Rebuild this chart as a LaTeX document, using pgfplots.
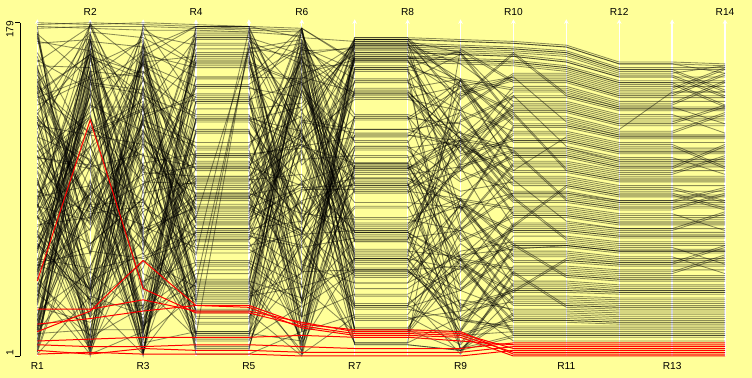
\documentclass[border=0pt]{standalone}
\usepackage{fontspec}
\setmainfont{Liberation Sans}
\usepackage{pgfplots}
\usepackage{pgfplotstable}
\pgfplotsset{compat=1.18}
\usetikzlibrary{arrows.meta}
\definecolor{bgyellow}{HTML}{FFFF99}

\pgfplotstableread{
R1 R2 R3 R4 R5 R6 R7 R8 R9 R10 R11 R12 R13 R14
16 94 26 47 47 148 62 62 29 9 9 9 9 9
25 46 21 68 68 122 7 7 4 11 11 11 11 11
36 2 14 95 95 98 67 67 52 12 12 12 12 12
49 141 5 128 128 76 28 28 12 14 14 14 14 14
64 105 173 167 167 56 26 26 20 15 15 15 15 15
81 73 160 33 33 38 47 47 20 17 17 17 17 17
100 45 145 84 84 22 34 34 48 19 19 18 18 18
121 21 128 141 141 8 53 53 12 20 20 19 19 19
144 1 109 25 25 175 43 43 70 22 22 21 21 21
169 164 88 94 94 165 7 7 4 23 23 22 22 22
17 152 65 12 169 157 55 55 36 25 25 24 24 24
46 144 40 71 71 151 33 33 2 45 27 26 26 26
77 140 13 158 158 147 62 62 52 28 28 27 27 27
110 131 163 72 72 145 21 21 25 30 30 29 29 29
145 120 132 171 171 140 102 102 66 31 31 30 30 30
3 160 99 97 97 133 15 15 4 33 33 32 32 32
42 170 64 29 29 161 29 29 49 35 35 34 34 34
83 11 27 146 146 166 53 53 20 36 36 35 35 35
126 30 167 90 90 170 72 72 81 38 38 36 36 36
171 55 126 40 40 2 22 22 7 39 39 37 37 37
39 82 83 55 175 14 23 23 61 41 41 39 39 39
88 113 38 137 137 30 53 53 47 60 43 41 41 41
139 150 170 105 105 46 111 111 84 44 44 42 42 42
13 15 121 79 79 65 8 8 22 46 46 44 44 44
68 36 70 59 59 84 93 93 52 47 47 45 45 54
125 101 17 45 45 110 15 15 14 49 49 47 47 47
5 146 141 37 37 118 83 83 80 51 51 49 49 49
66 23 84 35 35 155 46 46 27 35 52 50 50 59
129 83 25 39 39 176 69 69 102 54 54 51 51 51
15 147 143 49 49 27 46 46 36 55 55 52 52 52
82 36 80 65 65 59 64 64 68 57 57 54 54 45
151 108 15 87 87 93 50 50 14 59 59 56 56 56
43 5 127 115 115 129 67 67 84 60 60 57 57 57
116 85 58 149 149 167 37 37 57 62 62 59 59 50
12 169 166 10 10 28 153 153 120 85 63 60 60 60
89 78 93 56 56 70 27 27 36 65 65 62 62 62
168 170 18 108 108 114 96 96 81 67 67 64 64 64
70 87 120 30 166 160 14 14 52 68 68 65 65 65
153 8 41 51 51 29 119 119 113 70 70 67 67 67
59 112 139 121 121 79 66 66 39 71 71 68 68 77
146 41 56 18 18 131 101 101 115 95 73 69 69 69
56 153 150 100 100 6 103 103 62 75 75 71 71 71
147 90 63 9 9 62 89 89 116 76 76 72 72 72
61 31 153 103 103 120 57 57 54 78 78 74 74 74
156 155 62 24 24 1 103 103 84 79 79 75 75 75
74 104 148 130 130 63 13 13 46 81 81 77 77 68
173 57 53 63 63 127 122 122 112 83 83 79 79 87
95 14 135 2 2 14 98 98 102 110 84 80 80 80
19 154 36 126 126 82 170 170 134 86 86 82 82 82
124 119 114 77 77 152 51 51 68 87 87 83 83 90
52 88 11 34 34 45 80 80 100 89 89 84 84 84
161 61 85 176 176 119 58 58 25 70 91 86 86 86
93 38 157 145 145 16 107 107 116 92 92 87 87 79
27 19 48 120 120 94 104 104 89 94 94 89 89 89
142 4 116 101 101 174 92 92 130 95 95 90 90 83
80 172 3 88 88 77 74 74 68 97 97 92 92 92
20 165 67 81 81 161 140 140 113 99 99 94 94 94
141 162 129 80 80 68 100 100 114 130 100 95 95 95
85 163 10 85 85 156 156 156 145 102 102 97 97 97
31 168 68 96 96 67 44 44 71 103 103 98 98 107
158 177 124 113 113 159 128 128 125 105 105 100 100 100
108 11 178 136 136 74 113 113 94 107 107 101 101 113
60 28 51 75 165 170 115 115 148 108 108 102 102 102
14 49 101 21 21 89 96 96 86 110 110 104 104 104
149 74 149 62 62 10 112 112 116 111 111 105 105 105
107 103 16 109 109 112 141 141 105 140 113 107 107 98
67 136 60 162 162 37 127 127 144 115 115 109 109 109
29 173 102 42 42 143 88 88 108 116 116 110 110 110
172 35 142 107 107 72 161 161 148 100 118 112 112 112
138 80 1 177 177 3 91 91 100 119 119 113 113 101
106 129 37 76 76 115 147 147 132 121 121 115 115 115
76 3 71 159 159 50 40 40 78 123 123 117 117 117
48 60 103 69 69 166 154 154 148 124 124 118 118 118
22 121 133 40 164 105 170 170 145 150 126 119 119 119
177 7 161 86 86 46 148 148 162 127 127 120 120 130
155 76 8 14 14 168 141 141 100 129 129 122 142 142
135 149 32 127 127 113 118 118 145 131 131 124 124 124
117 47 54 67 67 60 119 119 116 132 132 125 125 134
101 128 74 13 13 9 160 160 163 134 134 127 127 127
87 34 92 144 144 139 70 70 103 135 135 128 128 128
75 123 108 102 102 92 167 167 157 137 137 130 130 120
65 37 122 66 66 47 122 122 126 139 139 132 132 132
57 134 134 36 36 4 168 168 138 162 140 133 133 133
51 56 144 12 12 142 101 101 118 142 142 134 134 125
47 161 152 173 173 103 128 128 148 143 143 135 135 147
45 91 158 161 161 66 143 143 110 145 145 137 137 137
174 25 162 155 155 31 155 155 164 147 147 139 139 139
9 142 164 150 150 176 158 158 140 148 148 140 140 151
131 84 176 157 157 146 104 104 142 150 150 142 142 142
99 30 2 170 170 117 138 138 132 151 151 143 143 154
33 159 97 6 6 90 158 158 157 156 153 145 145 145
163 113 45 31 31 65 160 160 159 158 155 147 147 135
113 71 113 58 58 42 161 161 160 159 156 148 148 148
2 33 23 111 111 21 163 163 162 161 158 150 150 150
92 178 156 139 139 2 164 164 163 162 159 151 151 140
6 148 77 19 19 164 165 165 164 163 161 152 152 156
58 122 137 74 74 149 167 167 166 165 163 154 154 143
128 100 2 133 133 136 168 168 167 166 164 155 155 155
35 82 118 4 4 125 170 170 169 168 166 157 157 152
104 68 168 92 92 116 171 171 170 169 167 158 158 157
179 178 179 178 177 176 40 40 55 58 60 57 57 57
178 179 178 177 176 175 20 20 31 26 26 25 25 25
176 177 177 176 175 174 95 95 80 88 88 83 83 83
177 176 175 175 174 172 130 130 120 112 112 105 105 105
44 169 133 14 14 64 94 94 5 12 12 12 12 12
117 178 100 145 145 128 16 16 53 13 13 13 13 13
90 29 28 67 67 83 47 47 21 16 16 16 16 16
71 75 127 13 13 46 47 47 49 20 20 19 19 19
154 104 84 174 174 120 65 65 13 21 21 20 20 20
147 174 171 156 156 95 68 68 5 24 24 23 23 23
148 81 71 158 158 78 154 154 3 46 28 27 27 27
62 130 18 171 171 162 28 28 53 29 29 28 28 28
75 61 85 32 32 157 15 15 67 32 32 31 31 31
96 8 144 112 112 160 67 67 50 36 36 35 35 35
20 77 81 140 140 75 102 102 21 37 37 36 36 36
53 48 128 75 75 90 90 90 8 40 40 38 38 38
94 35 167 5 5 113 104 104 48 61 44 42 42 42
28 124 94 93 93 38 14 14 85 45 45 43 43 43
81 135 121 69 69 73 99 99 53 48 48 46 46 55
142 162 140 129 129 116 52 52 81 52 52 50 50 50
86 92 57 168 168 51 81 81 28 36 53 51 51 60
159 143 64 85 85 106 108 108 37 56 56 53 53 53
61 31 63 26 26 169 93 93 15 60 60 57 57 57
15 160 149 95 95 114 75 75 85 61 61 58 58 58
108 72 136 72 72 10 101 101 121 86 64 61 61 61
30 179 115 73 73 93 45 45 82 68 68 65 65 65
173 149 12 172 172 48 129 129 53 69 69 66 66 66
107 101 158 30 30 143 116 116 40 72 72 69 69 78
49 69 117 91 91 67 113 113 63 76 76 72 72 72
23 95 4 41 41 32 142 142 117 77 77 73 73 73
156 3 130 138 138 147 89 89 85 80 80 76 76 76
118 106 69 80 80 91 92 92 113 84 84 80 80 88
102 74 125 60 60 66 148 148 103 111 85 81 81 81
76 22 52 38 38 22 155 155 69 88 88 84 84 91
58 165 150 40 40 165 149 149 26 71 92 87 87 87
52 153 17 50 50 150 142 142 117 93 93 88 88 80
46 141 103 88 88 126 120 120 131 96 96 91 91 84
10 121 2 150 150 149 71 71 114 100 100 95 95 95
132 161 38 11 11 123 168 168 115 131 101 96 96 96
34 12 104 109 109 77 169 169 72 104 104 99 99 108
114 56 162 52 52 39 129 129 95 108 108 102 102 114
3 83 9 122 122 23 144 144 149 109 109 103 103 103
7 151 55 101 101 176 159 159 117 112 112 106 106 106
129 37 93 104 104 158 139 139 145 116 116 110 110 110
36 102 109 25 25 152 159 159 109 117 117 111 111 111
17 24 135 64 64 146 162 162 101 120 120 114 114 102
37 148 153 127 127 134 165 165 79 124 124 118 118 118
50 37 159 78 78 162 166 166 149 125 125 119 119 119
82 6 165 177 177 171 169 169 163 128 128 121 121 131
122 170 3 121 121 15 171 171 146 132 132 125 125 125
145 79 98 102 102 31 63 63 117 133 133 126 126 135
18 88 114 82 82 66 68 68 104 136 136 129 129 129
78 113 157 86 86 111 27 27 127 140 140 133 133 133
111 42 78 97 97 119 48 48 139 163 141 134 134 134
4 91 3 137 137 176 54 54 149 144 144 136 136 148
84 156 169 22 22 60 8 8 165 148 148 140 140 140
127 105 27 63 63 94 56 56 141 149 149 141 141 152
40 15 15 163 163 168 63 63 133 152 152 144 144 155
140 120 174 108 108 71 159 159 158 157 154 146 146 134
14 89 161 177 177 115 160 160 159 158 155 147 147 147
126 39 129 160 160 30 163 163 162 161 158 150 150 139
67 5 89 165 165 132 166 166 165 164 162 153 153 142
130 173 66 87 87 7 167 167 166 165 163 154 154 154
83 163 14 128 128 121 170 170 169 168 166 157 157 156
}\blackdata
\pgfplotstabletranspose\blackT\blackdata

\pgfplotstableread{
R1 R2 R3 R4 R5 R6 R7 R8 R9 R10 R11 R12 R13 R14
41 127 37 24 24 17 13 13 12 3 3 3 3 3
14 25 52 28 28 18 15 15 14 2 2 2 2 2
26 26 31 25 25 19 14 14 13 5 5 5 5 5
18 21 25 28 27 16 12 12 11 1 1 1 1 1
9 10 11 11 11 12 11 11 9 7 7 7 7 7
7 6 6 7 7 6 5 5 5 8 8 8 8 8
4 2 5 4 4 3 3 3 3 6 6 6 6 6
2 3 2 2 2 1 1 1 1 4 4 4 4 4
}\reddata
\pgfplotstabletranspose\redT\reddata

\tikzset{lab/.style={inner sep=0pt, font=\fontsize{10.2}{12}\selectfont}}

\begin{document}
\begin{tikzpicture}
\begin{axis}[
  scale only axis, width=752bp, height=378bp,
  xmin=0.295, xmax=14.51, ymin=-10.75, ymax=191.12,
  axis lines=none, clip=false,
]
\fill[bgyellow] (rel axis cs:0,0) rectangle (rel axis cs:1,1);
\pgfplotsinvokeforeach{1,...,14}{
  \addplot[white, line width=1.3bp, -{Stealth[length=4.5bp,width=4.5bp]}] coordinates {(#1,1) (#1,180.8)};
}
\pgfplotsinvokeforeach{1,...,164}{
  \addplot[black, opacity=0.45, line width=0.85bp] table[x expr=\coordindex+1, y index=#1]{\blackT};
}
\pgfplotsinvokeforeach{1,...,8}{
  \addplot[red, line width=1bp] table[x expr=\coordindex+1, y index=#1]{\redT};
}
% left axis
\draw[black, line width=0.8bp] (axis cs:0.682,1) -- (axis cs:0.682,179);
\draw[black, line width=0.8bp] (axis cs:0.682,179) -- (axis cs:0.578,179);
\draw[black, line width=0.8bp] (axis cs:0.682,1) -- (axis cs:0.578,1);
\node[lab, rotate=90, anchor=east] at (axis cs:0.484,180) {179};
\node[lab, rotate=90, anchor=west] at (axis cs:0.484,1) {1};
% axis names
\node[lab] at (axis cs:1,-4.6) {R1};
\node[lab] at (axis cs:3,-4.6) {R3};
\node[lab] at (axis cs:5,-4.6) {R5};
\node[lab] at (axis cs:7,-4.6) {R7};
\node[lab] at (axis cs:9,-4.6) {R9};
\node[lab] at (axis cs:11,-4.6) {R11};
\node[lab] at (axis cs:13,-4.6) {R13};
\node[lab] at (axis cs:2,184.7) {R2};
\node[lab] at (axis cs:4,184.7) {R4};
\node[lab] at (axis cs:6,184.7) {R6};
\node[lab] at (axis cs:8,184.7) {R8};
\node[lab] at (axis cs:10,184.7) {R10};
\node[lab] at (axis cs:12,184.7) {R12};
\node[lab] at (axis cs:14,184.7) {R14};
\end{axis}
\end{tikzpicture}
\end{document}
